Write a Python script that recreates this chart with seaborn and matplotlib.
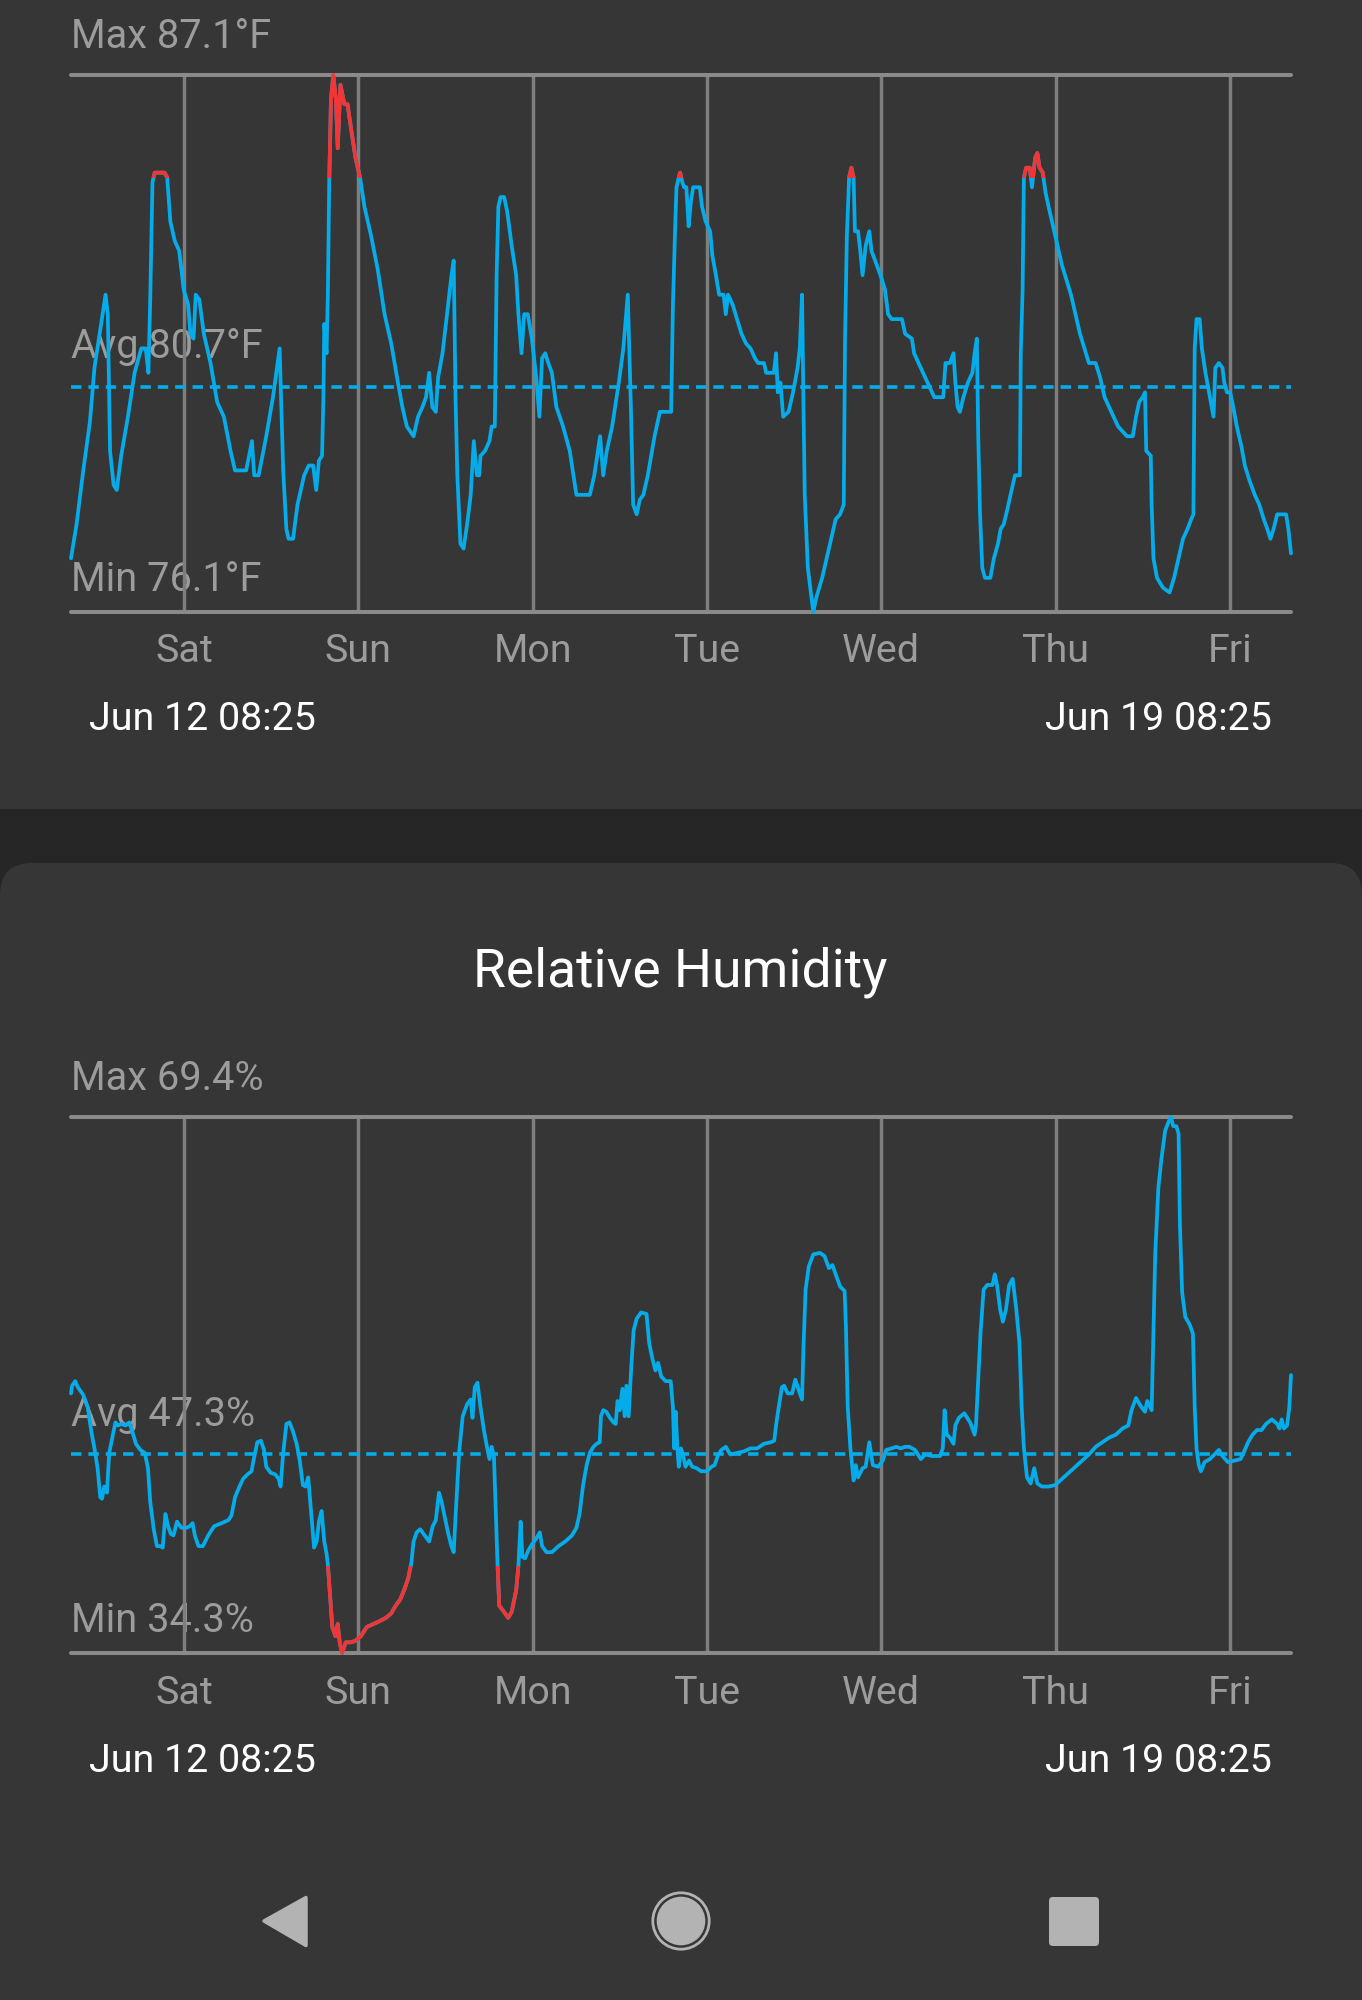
import numpy as np
import pandas as pd
import matplotlib
matplotlib.use("Agg")
import matplotlib.pyplot as plt
import matplotlib.transforms as mtransforms
from matplotlib.patches import Rectangle, FancyBboxPatch, Polygon, Circle
import seaborn as sns

# ---------------- data ----------------
temp_hours = [0.0, 0.77, 1.69, 2.61, 3.23, 4.15, 4.76, 5.07, 5.38, 5.87, 6.30, 6.91, 7.84, 8.76, 9.68,
              10.29, 10.66, 10.91, 11.22, 11.52, 12.88, 13.25, 13.68, 14.29, 14.90, 15.52, 16.13, 16.44,
              16.87, 17.18, 17.67, 18.29, 19.21, 20.13, 21.05, 21.97, 22.59, 24.12, 24.92, 25.23, 25.84,
              26.89, 27.81, 28.73, 29.22, 29.66, 29.96, 30.58, 31.19, 32.11, 32.73, 33.34, 33.77, 34.14,
              34.57, 34.76, 34.88, 35.19, 35.37, 35.56, 35.80, 36.11, 36.48, 36.73, 37.10, 37.65, 38.08,
              38.57, 39.18, 39.80, 40.41, 41.33, 42.26, 43.18, 44.10, 45.02, 45.63, 46.25, 47.17, 47.79,
              48.40, 48.89, 49.32, 49.75, 50.24, 50.55, 51.16, 51.78, 52.40, 52.70, 52.95, 53.20, 53.63,
              54.06, 54.55, 55.04, 55.47, 55.90, 56.21, 56.39, 57.01, 57.62, 57.93, 58.36, 58.61, 58.85,
              59.16, 59.65, 60.07, 60.69, 61.30, 61.61, 62.04, 62.41, 62.90, 63.46, 64.07, 64.50, 64.87,
              65.30, 65.73, 66.22, 66.84, 67.76, 68.68, 69.60, 71.45, 72.06, 72.86, 73.29, 73.78, 74.52,
              75.44, 76.06, 76.67, 77.10, 77.41, 77.90, 78.33, 78.82, 79.43, 80.36, 81.09, 82.64, 82.89,
              83.20, 83.38, 83.69, 83.88, 84.19, 84.43, 84.74, 85.05, 85.36, 85.67, 86.59, 86.90, 87.39,
              88.01, 88.32, 88.81, 89.25, 89.86, 90.17, 90.48, 91.10, 91.72, 92.33, 92.95, 93.57, 94.18,
              94.62, 95.42, 95.73, 96.78, 97.09, 97.33, 97.70, 98.07, 98.81, 99.43, 100.05, 100.36,
              100.67, 100.85, 101.04, 101.47, 102.21, 102.64, 103.44, 104.37, 105.30, 105.91, 106.41,
              106.59, 106.84, 107.15, 107.46, 107.77, 107.95, 108.38, 108.69, 109.00, 109.43, 109.93,
              110.23, 110.73, 111.47, 112.09, 112.52, 113.01, 114.43, 114.86, 115.79, 116.10, 116.71,
              117.33, 117.95, 118.57, 118.88, 120.11, 120.42, 121.04, 121.53, 121.78, 122.09, 122.40,
              122.89, 123.51, 124.13, 124.43, 124.74, 124.93, 125.18, 125.49, 125.86, 126.60, 127.09,
              127.65, 128.02, 128.45, 128.94, 129.38, 129.99, 130.67, 130.79, 131.04, 131.22, 131.53,
              132.03, 132.33, 132.77, 133.07, 133.38, 133.82, 134.19, 134.62, 135.24, 135.85, 136.47,
              137.09, 137.70, 138.32, 138.94, 139.56, 140.17, 141.10, 141.72, 142.33, 142.95, 143.57,
              144.19, 144.80, 145.42, 146.22, 146.66, 147.09, 147.58, 147.89, 148.07, 148.69, 148.81,
              149.06, 149.55, 150.36, 151.28, 151.90, 152.52, 153.13, 153.75, 154.25, 154.56, 154.74,
              154.99, 155.42, 155.73, 156.22, 156.84, 157.33, 157.58, 158.07, 158.57, 158.81, 159.18,
              159.62, 160.05, 160.54, 161.16, 161.65, 162.27, 163.01, 163.63, 164.25, 164.74, 165.17,
              165.60, 166.10, 167.33, 167.64, 168.0]
temp_f = [77.2, 77.9, 79.0, 80.0, 81.1, 82.0, 82.6, 82.2, 79.4, 78.7, 78.6, 79.3, 80.1, 81.0, 81.5,
          81.5, 81.0, 82.5, 84.9, 85.1, 85.1, 85.0, 84.1, 83.7, 83.5, 82.7, 82.4, 81.8,
          81.7, 82.6, 82.5, 81.8, 81.2, 80.4, 80.1, 79.4, 79.0, 79.0, 79.6, 78.9, 78.9,
          79.7, 80.5, 81.5, 79.0, 77.8, 77.6, 77.6, 78.3, 78.9, 79.1, 79.1, 78.6, 79.2,
          79.3, 80.5, 82.0, 81.4, 82.6, 84.9, 86.6, 87.1, 86.6, 85.6, 86.9, 86.5, 86.5,
          86.0, 85.4, 85.0, 84.4, 83.8, 83.1, 82.2, 81.6, 80.8, 80.3, 79.9, 79.7, 80.1,
          80.3, 80.5, 81.0, 80.3, 80.2, 80.9, 81.4, 82.2, 83.0, 83.3, 80.5, 78.9, 77.5,
          77.4, 77.9, 78.5, 79.6, 78.9, 78.9, 79.3, 79.4, 79.6, 79.9, 79.9, 83.0, 84.4,
          84.6, 84.6, 84.3, 83.6, 83.0, 82.2, 81.4, 82.2, 82.2, 81.7, 80.9, 80.1, 81.3,
          81.4, 81.2, 81.0, 80.3, 79.9, 79.4, 78.5, 78.5, 78.9, 79.7, 78.9, 79.4, 79.9,
          80.8, 81.5, 82.6, 80.3, 78.3, 78.1, 78.4, 78.5, 78.9, 79.7, 80.2, 80.2, 82.4,
          84.0, 84.8, 85.0, 85.1, 84.9, 84.8, 84.8, 84.0, 84.5, 84.8, 84.8, 84.4, 84.1,
          83.9, 83.4, 83.0, 82.6, 82.6, 82.2, 82.6, 82.4, 82.1, 81.8, 81.6, 81.5, 81.3,
          81.2, 81.2, 81.0, 81.0, 81.4, 80.6, 80.8, 80.1, 80.2, 80.6, 81.1, 81.5,
          82.6, 80.5, 78.5, 77.0, 76.1, 76.4, 76.8, 77.4, 78.0, 78.1, 78.3,
          81.7, 83.8, 85.0, 85.2, 85.0, 83.9, 83.9, 83.5, 83.0, 83.6, 83.9,
          83.5, 83.3, 83.0, 82.7, 82.2, 82.1, 82.1, 81.8, 81.7, 81.4, 81.2,
          81.0, 80.8, 80.6, 80.5, 80.5, 81.2, 81.2, 81.4, 80.8, 80.3, 80.2,
          80.5, 80.8, 81.0, 81.4, 81.7, 79.7, 78.1, 77.0, 76.8, 76.8, 77.2,
          77.5, 77.8, 77.9, 78.2, 78.5, 78.9, 78.9, 81.4, 82.7, 85.0, 85.2,
          85.2, 84.8, 85.4, 85.5, 85.2, 85.1, 84.7, 84.4, 84.0, 83.6, 83.2,
          82.9, 82.6, 82.2, 81.8, 81.5, 81.2, 81.2, 80.9, 80.5, 80.3, 80.1,
          79.9, 79.8, 79.7, 79.7, 80.1, 80.4, 80.5, 80.6, 79.4, 79.3, 78.3,
          77.2, 76.8, 76.6, 76.5, 76.8, 77.2, 77.6, 77.8, 78.0, 78.1, 81.5,
          82.1, 82.1, 81.5, 81.0, 80.5, 80.1, 81.1, 81.2, 81.1, 80.8, 80.6,
          80.6, 80.3, 79.9, 79.5, 79.1, 78.8, 78.5, 78.3, 78.0, 77.8, 77.6,
          77.8, 78.1, 78.1, 77.8, 77.3]

hum_hours = [0.0, 0.15, 0.58, 0.95, 1.69, 2.30, 2.80, 3.23, 3.66, 4.03, 4.27, 4.58, 4.95, 5.26, 5.87,
             6.12, 6.49, 6.91, 7.53, 8.02, 8.45, 8.94, 9.55, 10.17, 10.60, 10.91, 11.40, 11.83, 12.26,
             12.63, 13.00, 13.37, 13.74, 14.11, 14.60, 15.21, 15.95, 16.32, 16.75, 17.06, 17.55, 18.16,
             18.90, 19.70, 20.74, 21.67, 22.09, 22.59, 23.20, 23.70, 24.31, 24.86, 25.17, 25.66, 26.15,
             26.58, 26.89, 27.50, 28.12, 28.61, 28.86, 29.22, 29.66, 30.09, 30.58, 31.07, 31.50, 31.93,
             32.30, 32.67, 33.04, 33.47, 33.83, 34.14, 34.51, 34.88, 35.19, 35.37, 35.62, 35.98, 36.42,
             36.73, 37.03, 37.34, 37.83, 38.57, 39.18, 39.92, 40.72, 41.64, 42.56, 43.36, 44.10, 44.71,
             45.33, 45.94, 46.44, 46.87, 47.17, 47.60, 48.09, 48.71, 49.32, 49.81, 50.24, 50.67, 51.04,
             51.47, 51.96, 52.39, 52.70, 53.01, 53.44, 53.94, 54.55, 55.04, 55.29, 55.60, 55.97, 56.39,
             56.89, 57.32, 57.62, 57.93, 58.24, 58.48, 58.73, 58.97, 59.46, 60.20, 60.69, 61.30, 61.61,
             61.92, 62.16, 62.53, 62.96, 63.46, 64.07, 64.56, 64.87, 65.48, 66.22, 67.14, 68.06, 68.99,
             69.60, 70.03, 70.52, 71.01, 71.44, 71.94, 72.37, 72.80, 72.98, 73.29, 73.72, 74.21, 74.71,
             75.01, 75.26, 75.56, 75.93, 76.24, 76.48, 76.79, 77.16, 77.47, 77.90, 78.51, 79.25, 79.62,
             80.05, 80.48, 80.85, 81.28, 81.90, 82.58, 82.89, 83.07, 83.26, 83.51, 83.69, 84.00, 84.31,
             84.62, 85.11, 85.54, 86.16, 86.78, 87.58, 88.20, 88.63, 89.06, 89.56, 90.17, 90.79, 91.72,
             92.64, 93.57, 94.49, 95.42, 96.35, 96.84, 97.09, 97.46, 97.89, 98.20, 98.69, 99.31, 99.74,
             100.36, 100.67, 100.85, 101.16, 101.59, 102.21, 103.14, 103.75, 104.37, 104.86, 105.30,
             105.91, 106.53, 106.71, 106.96, 107.33, 107.77, 108.07, 108.38, 109.00, 109.43, 109.93,
             110.42, 111.16, 111.78, 112.27, 113.01, 113.63, 114.25, 114.86, 115.48, 116.22, 117.03,
             117.64, 118.57, 119.68, 120.05, 120.30, 120.60, 121.04, 121.53, 121.78, 122.27, 123.01,
             123.82, 124.43, 124.62, 124.93, 125.24, 125.67, 126.17, 126.90, 127.21, 127.52, 127.95,
             128.32, 128.75, 129.19, 129.68, 130.17, 130.61, 130.91, 131.22, 131.65, 132.15, 132.64,
             133.07, 133.69, 134.62, 135.54, 136.47, 137.40, 138.32, 139.25, 140.17, 141.10, 142.02,
             142.95, 143.88, 144.80, 145.60, 146.04, 146.66, 147.27, 147.89, 148.20, 148.81, 149.00,
             149.31, 149.74, 150.17, 150.67, 151.16, 151.47, 151.78, 152.21, 152.52, 152.70, 153.01,
             153.45, 154.06, 154.50, 154.74, 154.99, 155.30, 155.60, 156.10, 156.84, 157.46, 158.07,
             158.57, 159.31, 160.23, 161.04, 161.47, 162.09, 162.71, 163.32, 163.94, 164.56, 165.36,
             166.10, 166.41, 166.72, 167.02, 167.46, 167.77, 168.0]
hum_pct = [51.3, 51.8, 52.1, 51.7, 51.2, 50.4, 48.8, 47.7, 46.4, 44.5, 44.4, 45.2, 44.8, 47.4, 48.8,
           49.4, 49.2, 49.3, 49.2, 49.4, 48.8, 48.0, 47.6, 47.4, 46.4, 44.2, 42.4, 41.3, 41.3,
           41.2, 43.4, 42.6, 42.1, 42.0, 42.9, 42.5, 42.5, 42.6, 42.8, 42.0, 41.3, 41.3,
           42.0, 42.6, 42.8, 43.0, 43.3, 44.5, 45.2, 45.7, 46.0, 46.2, 47.0, 48.1, 48.2,
           47.6, 46.5, 46.1, 46.0, 45.7, 45.2, 47.4, 49.3, 49.4, 48.8, 48.0, 46.9, 45.3,
           45.2, 45.8, 43.7, 41.2, 41.6, 42.9, 43.6, 41.6, 40.8, 40.1, 38.4, 36.0, 35.4,
           36.2, 34.9, 34.3, 35.0, 35.0, 35.1, 35.4, 36.0, 36.2, 36.4, 36.6, 36.9, 37.4,
           37.8, 38.5, 39.2, 40.2, 41.6, 42.2, 42.4, 42.0, 41.6, 42.6, 43.0, 44.8, 44.2,
           43.2, 42.1, 41.3, 40.9, 43.7, 47.4, 49.8, 50.6, 50.9, 49.7, 51.7, 52.0, 50.4,
           48.8, 47.7, 47.0, 47.8, 47.2, 43.7, 40.2, 37.4, 37.1, 36.6, 37.0, 38.4, 40.0,
           42.9, 40.6, 40.5, 41.0, 41.4, 41.8, 42.2, 41.3, 40.9, 40.9, 41.3, 41.6, 42.0,
           42.5, 43.4, 45.3, 46.6, 47.4, 47.8, 48.0, 48.1, 49.8, 50.2, 50.1, 49.7, 49.4,
           49.3, 50.8, 50.2, 51.6, 49.8, 51.8, 49.8, 53.1, 55.4, 56.2, 56.6, 56.5, 54.6,
           53.6, 52.8, 53.3, 52.4, 52.1, 52.1, 50.4, 47.7, 50.1, 47.7, 46.5, 47.7, 47.2,
           46.5, 46.9, 46.5, 46.4, 46.2, 46.2, 46.5, 46.6, 47.2, 47.6, 47.8, 47.3, 47.4,
           47.5, 47.7, 47.7, 48.0, 48.1, 48.2, 49.2, 50.4, 51.7, 51.8, 51.3, 51.3, 52.2,
           51.3, 50.9, 54.1, 58.1, 59.6, 60.4, 60.5, 60.3, 59.5, 59.7, 59.1,
           58.3, 58.0, 55.7, 50.4, 47.7, 45.6, 46.6, 45.8, 46.4, 46.5, 48.1,
           46.6, 46.5, 46.9, 47.6, 47.7, 47.8, 47.7, 47.8, 47.8, 47.6, 47.0,
           47.3, 47.2, 47.2, 47.7, 50.2, 48.6, 48.4, 48.0, 49.2, 49.7, 50.0,
           49.4, 48.6, 49.2, 52.2, 55.2, 58.1, 58.4, 58.4, 59.1, 58.4, 56.8,
           56.0, 56.8, 58.4, 58.8, 56.8, 54.6, 50.4, 47.7, 45.8, 45.4, 46.4,
           45.4, 45.2, 45.2, 45.3, 45.7, 46.1, 46.5, 46.9, 47.3, 47.8, 48.1,
           48.4, 48.6, 49.0, 49.2, 50.2, 51.0, 50.5, 50.1, 50.8, 50.2, 54.1,
           60.5, 64.8, 66.7, 68.5, 69.1, 69.4, 68.8, 68.8, 68.3, 62.4, 57.9,
           56.3, 55.8, 55.2, 50.4, 47.7, 46.6, 46.2, 46.8, 47.0, 47.3, 47.6,
           47.2, 46.8, 46.9, 47.0, 47.4, 48.1, 48.6, 48.9, 48.9, 49.3, 49.6,
           49.3, 49.0, 49.6, 49.0, 49.2, 50.4, 52.5]

day_labels = ["Sat", "Sun", "Mon", "Tue", "Wed", "Thu", "Fri"]
day_hours = [15.58, 39.58, 63.58, 87.58, 111.58, 135.58, 159.58]   # midnights after Jun 12 08:25
range_labels = ["Jun 12 08:25", "Jun 19 08:25"]

temp_stats = {"Max": 87.1, "Avg": 80.7, "Min": 76.1}
hum_stats = {"Max": 69.4, "Avg": 47.3, "Min": 34.3}
temp_red_above = 85.0
hum_red_below = 40.0

# ---------------- style ----------------
W, H = 1362, 2000
CARD = "#363636"
STRIP = "#262626"
BLUE = "#05ace9"
RED = "#f23535"
GRID = "#7e7e7e"
EDGE = "#8a8a8a"
LABEL = "#9c9c9c"
ICON = "#b3b3b3"

sns.set_style("dark")
plt.rcParams["font.family"] = ["Roboto", "DejaVu Sans"]
plt.rcParams["lines.scale_dashes"] = False

fig = plt.figure(figsize=(W / 100, H / 100), dpi=100)
fig.patch.set_facecolor(CARD)

# background / text layer in pixel coordinates
bg = fig.add_axes([0, 0, 1, 1], zorder=0)
bg.set_xlim(0, W)
bg.set_ylim(H, 0)
bg.axis("off")
bg.add_patch(Rectangle((0, 809), W, 120, facecolor=STRIP, edgecolor="none"))
bg.add_patch(FancyBboxPatch((0, 863), W, 1300, boxstyle="round,pad=0,rounding_size=32",
                            facecolor=CARD, edgecolor="none"))

STAT_FS = 28.6
DAY_FS = 28.4
DATE_FS = 28.4


def make_chart(top_px, bottom_px, hours, values, stats, unit, red_rect, ymarks):
    ax = fig.add_axes([71 / W, 1 - bottom_px / H, 1220 / W, (bottom_px - top_px) / H], zorder=2)
    ax.set_facecolor("none")
    ax.axis("off")
    ax.set_xlim(0, 168)
    ax.set_ylim(stats["Min"], stats["Max"])
    for d in day_hours:
        ax.axvline(d, color=GRID, lw=2.5, zorder=1)
    for v in (stats["Max"], stats["Min"]):
        ax.axhline(v, color=EDGE, lw=2.9, clip_on=False, zorder=1)
    ax.axhline(stats["Avg"], color=BLUE, lw=2.6, linestyle=(0, (7.5, 5.0)), zorder=2)

    df = pd.DataFrame({"hours": hours, "value": values})
    sns.lineplot(data=df, x="hours", y="value", ax=ax, color=BLUE, linewidth=2.7,
                 estimator=None, sort=False, legend=False, zorder=3)
    ax.lines[-1].set_clip_on(False)
    sns.lineplot(data=df, x="hours", y="value", ax=ax, color=RED, linewidth=2.7,
                 estimator=None, sort=False, legend=False, zorder=4)
    ax.lines[-1].set_clip_path(Rectangle(red_rect[0], red_rect[1], red_rect[2],
                                         transform=ax.transData))
    ax.axis("off")

    # stat labels
    for key, ypx in zip(("Max", "Avg", "Min"), ymarks[:3]):
        bg.text(71, ypx, f"{key} {stats[key]}{unit}", color=LABEL, fontsize=STAT_FS,
                va="baseline", ha="left", zorder=1)
    # day labels
    trans = mtransforms.blended_transform_factory(ax.transData, bg.transData)
    for d, lab in zip(day_hours, day_labels):
        ax.text(d, ymarks[3], lab, transform=trans, color=LABEL, fontsize=DAY_FS,
                ha="center", va="baseline", clip_on=False)
    bg.text(89, ymarks[4], range_labels[0], color="white", fontsize=DATE_FS,
            ha="left", va="baseline")
    bg.text(1272, ymarks[4], range_labels[1], color="white", fontsize=DATE_FS,
            ha="right", va="baseline")
    return ax


make_chart(75, 612, temp_hours, temp_f, temp_stats, "°F",
           ((-5, temp_red_above), 180, 20), (48, 358, 591, 662, 730))
make_chart(1117, 1653, hum_hours, hum_pct, hum_stats, "%",
           ((-5, 0), 180, hum_red_below), (1090, 1426, 1632, 1704, 1772))

bg.text(680, 987, "Relative Humidity", color="white", fontsize=38.4, ha="center", va="baseline")

# navigation bar icons
bg.add_patch(Polygon([(264, 1921), (306, 1897.5), (306, 1945.5)], closed=True,
                     facecolor=ICON, edgecolor=ICON, lw=2.5, joinstyle="round"))
bg.add_patch(Circle((681, 1921), 28.2, fill=False, edgecolor=ICON, lw=2.0))
bg.add_patch(Circle((681, 1921), 24.3, facecolor=ICON, edgecolor="none"))
bg.add_patch(FancyBboxPatch((1049, 1897), 50, 49, boxstyle="round,pad=0,rounding_size=4",
                            facecolor=ICON, edgecolor="none"))

fig.savefig("out.png", dpi=100, facecolor=fig.get_facecolor())
